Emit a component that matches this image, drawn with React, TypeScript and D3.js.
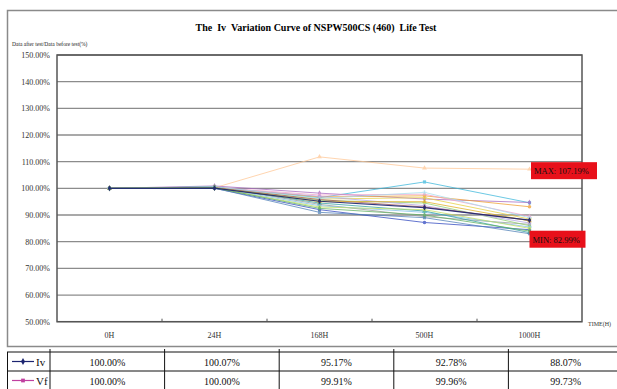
import React from "react";
import * as d3 from "d3";

// categories on the x axis and the y tick values (percent)
const categories = ["0H", "24H", "168H", "500H", "1000H"];
const yTickValues = [50, 60, 70, 80, 90, 100, 110, 120, 130, 140, 150];

// the two series listed in the data table
const ivValues = [100, 100.07, 95.17, 92.78, 88.07];
const vfValues = [100, 100, 99.91, 99.96, 99.73];

// individual samples
const sample03 = [100, 100.2, 111.8, 107.6, 107.19];
const sample04 = [100, 100.5, 96.5, 102.4, 94.6];
const sample05 = [100, 100.9, 98.2, 96.0, 94.7];
const sample06 = [100, 100.3, 96.8, 97.2, 93.1];
const sample07 = [100, 100.1, 96.0, 96.5, 88.5];
const sample08 = [100, 100.4, 97.5, 97.8, 89.5];
const sample09 = [100, 100.6, 94.0, 89.4, 86.5];
const sample10 = [100, 100.2, 95.5, 94.5, 86.0];
const sample11 = [100, 100.0, 92.0, 87.2, 84.5];
const sample12 = [100, 100.3, 93.5, 91.0, 85.5];
const sample13 = [100, 100.5, 94.5, 91.5, 83.4];
const sample14 = [100, 100.2, 97.0, 93.5, 87.0];
const sample15 = [100, 100.4, 95.8, 93.0, 88.0];
const sample16 = [100, 100.1, 93.0, 92.0, 85.0];
const sample17 = [100, 100.6, 96.2, 98.5, 89.0];
const sample18 = [100, 100.3, 95.0, 95.0, 87.8];
const sample19 = [100, 100.1, 91.0, 89.0, 82.99];
const sample20 = [100, 100.2, 92.5, 90.0, 84.0];

const samples = [
  sample03, sample04, sample05, sample06, sample07, sample08, sample09, sample10, sample11,
  sample12, sample13, sample14, sample15, sample16, sample17, sample18, sample19, sample20,
];

const palette = [
  "#ffc896", "#3cb8dc", "#a868c0", "#f0a030", "#e6d040", "#f0a0c8", "#9a9a9a", "#90d070", "#3048c0",
  "#80c0e8", "#30a0a0", "#b4a4e4", "#a85858", "#c4e060", "#a8e0f0", "#e0b020", "#5080b8", "#60b060",
];
const symbols = [d3.symbolTriangle, d3.symbolSquare, d3.symbolDiamond, d3.symbolCircle, d3.symbolCross];

const W = 617;
const H = 389;
const margin = { left: 57, right: 582, top: 55, bottom: 321.7 };
const serif = "'Liberation Serif', 'Times New Roman', serif";

export default function App() {
  const x = d3.scaleBand().domain(categories).range([margin.left, margin.right]).padding(0);
  const y = d3.scaleLinear().domain([50, 150]).range([margin.bottom, margin.top]);
  const line = d3
    .line<number>()
    .x((_, i) => (x(categories[i]) as number) + x.bandwidth() / 2)
    .y((d) => y(d));

  const lastValues = samples.map((s) => s[s.length - 1]);
  const maxVal = d3.max(lastValues) as number;
  const minVal = d3.min(lastValues) as number;
  const xLast = (x(categories[categories.length - 1]) as number) + x.bandwidth() / 2;

  const tableX = d3.scaleBand().domain(categories).range([50, 623]);
  const rows = [
    { name: "Iv", values: ivValues, color: "#1c2470", sym: d3.symbolDiamond },
    { name: "Vf", values: vfValues, color: "#c040a0", sym: d3.symbolSquare },
  ];
  const rowY = [352, 371, 390];

  const drawSeries = (vals: number[], color: string, sym: d3.SymbolType, key: string, width = 1, op = 0.75) => (
    <g key={key} opacity={op}>
      <path d={line(vals) || ""} fill="none" stroke={color} strokeWidth={width} />
      {vals.map((v, i) => (
        <path
          key={i}
          transform={`translate(${(x(categories[i]) as number) + x.bandwidth() / 2},${y(v)})`}
          d={d3.symbol().type(sym).size(10)() || ""}
          fill={color}
        />
      ))}
    </g>
  );

  return (
    <svg
      width={W}
      height={H}
      style={{ position: "absolute", left: 0, top: 0, background: "#fff" }}
      fontFamily={serif}
    >
      {/* chart frame */}
      <rect x={7.5} y={10.5} width={620} height={336} fill="none" stroke="#8a8a8a" strokeWidth={1.5} />

      <text x={316} y={31} textAnchor="middle" fontSize={10} fontWeight="bold" xmlSpace="preserve">
        The  Iv  Variation Curve of NSPW500CS (460)  Life Test
      </text>
      <text x={12} y={46} fontSize={5.5} fill="#222">
        Data after test/Data before test(%)
      </text>

      {/* grid + y ticks */}
      {yTickValues.map((t) => (
        <g key={t}>
          <line x1={margin.left} x2={margin.right} y1={y(t)} y2={y(t)} stroke="#8c8c8c" strokeWidth={1.3} />
          <text x={50} y={y(t) + 3} textAnchor="end" fontSize={8} fill="#333">
            {t.toFixed(2)}%
          </text>
        </g>
      ))}
      <rect
        x={margin.left}
        y={margin.top}
        width={margin.right - margin.left}
        height={margin.bottom - margin.top}
        fill="none"
        stroke="#555"
        strokeWidth={1.5}
      />
      {categories.slice(1).map((c) => (
        <line
          key={c}
          x1={x(c) as number}
          x2={x(c) as number}
          y1={margin.bottom}
          y2={margin.bottom - 3}
          stroke="#555"
        />
      ))}
      {categories.map((c) => (
        <text
          key={c}
          x={(x(c) as number) + x.bandwidth() / 2}
          y={338}
          textAnchor="middle"
          fontSize={8}
          fill="#333"
        >
          {c}
        </text>
      ))}
      <text x={588} y={326} fontSize={6} fill="#333">
        TIME(H)
      </text>

      {/* series: samples, then the Iv line on top */}
      {samples.map((s, i) => drawSeries(s, palette[i % palette.length], symbols[i % symbols.length], "s" + i))}
      {drawSeries(rows[0].values, rows[0].color, rows[0].sym, rows[0].name, 1.2, 0.9)}

      {/* max / min labels */}
      <rect x={531} y={y(maxVal) - 7} width={66} height={17} fill="#e8101a" />
      <text x={534} y={y(maxVal) + 5} fontSize={8.5} fill="#111">
        MAX: {maxVal.toFixed(2)}%
      </text>
      <rect x={xLast} y={y(minVal) - 3} width={56} height={17} fill="#e8101a" />
      <text x={xLast + 3} y={y(minVal) + 9} fontSize={8.5} fill="#111">
        MIN: {minVal.toFixed(2)}%
      </text>

      {/* data table */}
      <line x1={7} x2={W} y1={rowY[0]} y2={rowY[0]} stroke="#111" />
      <line x1={7} x2={W} y1={rowY[1]} y2={rowY[1]} stroke="#111" />
      <line x1={7.5} x2={7.5} y1={rowY[0]} y2={H} stroke="#111" />
      {[50, ...categories.slice(1).map((c) => tableX(c) as number)].map((cx, i) => (
        <line key={i} x1={cx} x2={cx} y1={rowY[0] - 3} y2={H} stroke="#111" />
      ))}
      {rows.map((r, ri) => {
        const cy = (rowY[ri] + rowY[ri + 1]) / 2;
        return (
          <g key={r.name}>
            <line x1={12} x2={34} y1={cy} y2={cy} stroke={r.color} strokeWidth={1.2} />
            <path transform={`translate(23,${cy})`} d={d3.symbol().type(r.sym).size(14)() || ""} fill={r.color} />
            <text x={36} y={cy + 4} fontSize={11} fill="#111">
              {r.name}
            </text>
            {r.values.map((v, i) => (
              <text
                key={i}
                x={(tableX(categories[i]) as number) + tableX.bandwidth() / 2}
                y={cy + 4}
                textAnchor="middle"
                fontSize={10}
                fill="#111"
              >
                {v.toFixed(2)}%
              </text>
            ))}
          </g>
        );
      })}
    </svg>
  );
}
